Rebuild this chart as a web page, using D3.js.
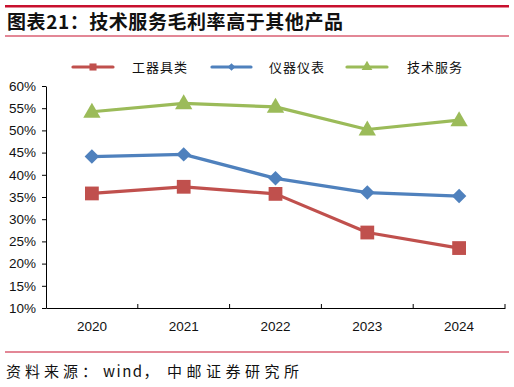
<!DOCTYPE html>
<html>
<head>
<meta charset="utf-8">
<script src="https://cdn.jsdelivr.net/npm/d3@7"></script>
<style>
  body { margin: 0; background: #fff; }
  svg { display: block; }
</style>
</head>
<body>
<svg id="chart" width="514" height="387"></svg>
<script>
// chart data
const years = ["2020", "2021", "2022", "2023", "2024"];
const toolValues = [35.8, 37.3, 35.7, 27.0, 23.5];
const instrumentValues = [44.1, 44.6, 39.2, 36.0, 35.2];
const serviceValues = [54.2, 56.1, 55.3, 50.2, 52.3];
const yTicks = [10, 15, 20, 25, 30, 35, 40, 45, 50, 55, 60];
const seriesNames = ["工器具类", "仪器仪表", "技术服务"];

const series = [
    { name: seriesNames[0], values: toolValues, color: "#C0504D", symbol: d3.symbolSquare, size: 190, legendSize: 50, rotate: 0 },
    { name: seriesNames[1], values: instrumentValues, color: "#4F81BD", symbol: d3.symbolSquare, size: 105, legendSize: 30, rotate: 45 },
    { name: seriesNames[2], values: serviceValues, color: "#9BBB59", symbol: d3.symbolTriangle, size: 130, legendSize: 50, rotate: 0 }
];

const svg = d3.select("#chart");
const cjk = "'Noto Sans CJK SC', 'Noto Sans', sans-serif";

// header rules and title
svg.append("rect").attr("x", 5).attr("y", 5).attr("width", 504).attr("height", 2.5).attr("fill", "#C8102E");
svg.append("rect").attr("x", 5).attr("y", 35.5).attr("width", 504).attr("height", 1).attr("fill", "#C8102E");
svg.append("text")
    .attr("x", 7).attr("y", 29)
    .attr("font-family", cjk)
    .attr("font-size", "19px")
    .attr("font-weight", "bold")
    .attr("fill", "#111")
    .attr("textLength", 336)
    .attr("lengthAdjust", "spacing")
    .text("图表21：技术服务毛利率高于其他产品");

// footer
svg.append("rect").attr("x", 5).attr("y", 351.5).attr("width", 504).attr("height", 1).attr("fill", "#C8102E");
const source = svg.append("text")
    .attr("y", 377)
    .attr("font-family", cjk)
    .attr("font-size", "15px")
    .attr("fill", "#111");
source.append("tspan").attr("x", 6).attr("letter-spacing", "4px").text("资料来源：");
source.append("tspan").attr("x", 103).attr("letter-spacing", "1.5px").text("wind，");
source.append("tspan").attr("x", 167).attr("letter-spacing", "4.5px").text("中邮证券研究所");

// plot area
const margin = { left: 46, right: 505, top: 86, bottom: 308 };

const x = d3.scaleBand()
    .domain(years)
    .range([margin.left, margin.right]);

const y = d3.scaleLinear()
    .domain([10, 60])
    .range([margin.bottom, margin.top]);

const yAxis = svg.append("g")
    .attr("transform", `translate(${margin.left},0)`)
    .call(d3.axisLeft(y).tickValues(yTicks).tickFormat(d => d + "%").tickSize(4).tickSizeOuter(0));
yAxis.select(".domain").attr("stroke", "#000");
yAxis.selectAll(".tick line").attr("stroke", "#000");
yAxis.selectAll("text")
    .attr("x", -10)
    .attr("font-family", "'Liberation Sans', Arial, sans-serif")
    .attr("font-size", "13.5px")
    .attr("fill", "#111");

const xAxis = svg.append("g")
    .attr("transform", `translate(0,${margin.bottom})`)
    .call(d3.axisBottom(x).tickSize(0).tickSizeOuter(0));
xAxis.select(".domain").attr("stroke", "#000");
xAxis.selectAll("text")
    .attr("dy", 0)
    .attr("y", 23)
    .attr("font-family", "'Liberation Sans', Arial, sans-serif")
    .attr("font-size", "13.5px")
    .attr("fill", "#111");
// category boundary ticks
xAxis.selectAll(".sep")
    .data(years)
    .enter().append("line")
    .attr("x1", d => x(d) + x.bandwidth())
    .attr("x2", d => x(d) + x.bandwidth())
    .attr("y1", 0).attr("y2", -4)
    .attr("stroke", "#000");

const cx = d => x(d) + x.bandwidth() / 2;

const line = d3.line()
    .x((d, i) => cx(years[i]))
    .y(d => y(d));

series.forEach(s => {
    svg.append("path")
        .datum(s.values)
        .attr("fill", "none")
        .attr("stroke", s.color)
        .attr("stroke-width", 3.2)
        .attr("stroke-linejoin", "round")
        .attr("d", line);

    svg.append("g").selectAll("path")
        .data(s.values)
        .enter().append("path")
        .attr("d", d3.symbol().type(s.symbol).size(s.size))
        .attr("transform", (d, i) => `translate(${cx(years[i])},${y(d) + (s.symbol === d3.symbolTriangle ? 1 : 0)}) rotate(${s.rotate})`)
        .attr("fill", s.color);
});

// legend
const legendItems = [
    { x1: 73, x2: 113, tx: 132 },
    { x1: 212, x2: 251, tx: 269 },
    { x1: 347, x2: 387, tx: 407 }
];
const legendY = 67;
series.forEach((s, i) => {
    const li = legendItems[i];
    svg.append("line")
        .attr("x1", li.x1).attr("x2", li.x2)
        .attr("y1", legendY).attr("y2", legendY)
        .attr("stroke", s.color)
        .attr("stroke-width", 3.2)
        .attr("stroke-linecap", "round");
    svg.append("path")
        .attr("d", d3.symbol().type(s.symbol).size(s.legendSize))
        .attr("transform", `translate(${(li.x1 + li.x2) / 2},${legendY}) rotate(${s.rotate})`)
        .attr("fill", s.color);
    svg.append("text")
        .attr("x", li.tx).attr("y", legendY + 5)
        .attr("font-family", cjk)
        .attr("font-size", "13px")
        .attr("fill", "#111")
        .attr("textLength", 55)
        .attr("lengthAdjust", "spacing")
        .text(s.name);
});
</script>
</body>
</html>
